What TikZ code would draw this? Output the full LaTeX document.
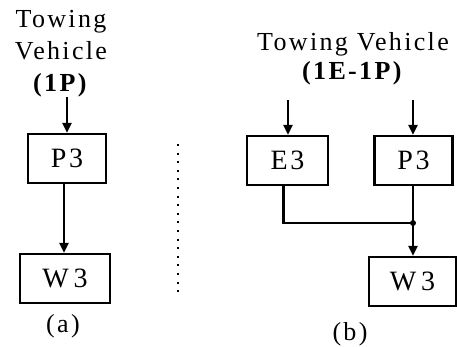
\documentclass[tikz,border=0pt]{standalone}
\usepackage{fontspec}
\setmainfont{Liberation Serif}
\newfontfamily\headfont[LetterSpace=9]{Liberation Serif}
\newfontfamily\boxfont[LetterSpace=10]{Liberation Serif}
\usetikzlibrary{arrows.meta, positioning}

\tikzset{
  block/.style={draw, line width=2.4pt, minimum height=49pt, inner sep=0pt,
                font=\boxfont\fontsize{28}{32}\selectfont},
  heading/.style={align=center, inner sep=0pt, anchor=north,
                  font=\headfont\fontsize{26}{32}\selectfont},
  caption/.style={inner sep=0pt, font=\headfont\fontsize{26}{30}\selectfont},
  flow/.style={-{Triangle[length=10pt,width=9pt]}, line width=2.4pt},
  link/.style={line width=2.4pt},
}

\begin{document}
\begin{tikzpicture}[x=1pt, y=-1pt]
\useasboundingbox (0,0) rectangle (457,346);

% === (a) one powered unit ===
\node[heading] (headA) at (61,10) {Towing\\Vehicle\\\textbf{(1P)}};
\node[block, minimum width=78pt] (p3a) at (67,158.5) {P3};
\node[block, minimum width=90pt] (w3a) at (65,278.5) {W\,3};
\node[caption] (labA) at (63,326) {(a)};

\draw[flow] (p3a.north |- headA.south) -- (p3a.north);
\draw[flow] ([xshift=-3pt]p3a.south) -- ([xshift=-3pt]p3a.south |- w3a.north);

% separator
\draw[line width=2.2pt, dash pattern=on 2pt off 6.6pt] (178,144) -- (178,298);

% === (b) engine + powered unit ===
\node[heading, font=\headfont\fontsize{26}{29}\selectfont] (headB) at (353,32)
     {Towing Vehicle\\\textbf{(1E-1P)}};
\node[block, minimum width=81pt] (e3b) at (287.5,160.5) {E3};
\node[block, minimum width=78pt] (p3b) at (413.5,160.5) {P3};
\node[block, minimum width=87pt] (w3b) at (412.5,281.5) {W\,3};
\node[caption] (labB) at (350,334) {(b)};

\coordinate (inE) at (288,100);
\coordinate (inP) at (413,100);
\coordinate (jn) at (413,223);

\draw[flow] (inE) -- (inE |- e3b.north);
\draw[flow] (inP) -- (inP |- p3b.north);
\draw[link] ([xshift=-4pt]e3b.south) |- (jn);
\draw[flow] (jn |- p3b.south) -- (jn |- w3b.north);
\fill (jn) circle (3pt);

\end{tikzpicture}
\end{document}
